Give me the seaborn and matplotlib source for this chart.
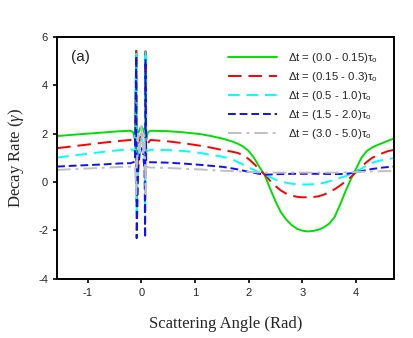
import pandas as pd
import seaborn as sns
import matplotlib.pyplot as plt

sns.set_theme(style="ticks")
plt.rcParams['font.family'] = ['Liberation Sans', 'DejaVu Sans']
plt.rcParams['axes.unicode_minus'] = False
plt.rcParams['mathtext.fontset'] = 'custom'
plt.rcParams['mathtext.it'] = 'Liberation Serif:italic'
plt.rcParams['mathtext.rm'] = 'Liberation Sans'

# angle grid (rad) of the smooth parts, left and right of the central spikes
theta_left = [-1.57, -1.3, -1.0, -0.7, -0.4, -0.2]
theta_mid = [-0.15, -0.12, -0.095, -0.088, -0.06, -0.03, 0.0, 0.03, 0.06, 0.07, 0.077, 0.09, 0.12]
theta_right = [0.17, 0.5, 0.8, 1.1, 1.3,
               1.5, 1.6, 1.7, 1.8, 1.9, 2.0, 2.1, 2.2, 2.3, 2.4, 2.5, 2.6, 2.7, 2.8, 2.9,
               3.0, 3.1, 3.2, 3.3, 3.4, 3.5, 3.6, 3.7, 3.8, 3.9, 4.0, 4.1, 4.2, 4.3, 4.4,
               4.5, 4.6, 4.71]

green_left = [1.9, 1.95, 2.0, 2.05, 2.1, 2.12]
green_mid = [2.05, 1.75, 5.4, 1.2, 2.0, 2.2, 2.3, 2.2, 2.0, 1.2, 5.35, 1.75, 2.05]
green_right = [2.12, 2.1, 2.05, 1.98, 1.9,
               1.8, 1.74, 1.67, 1.58, 1.46, 1.28, 1.0, 0.62, 0.28, -0.28, -0.8, -1.25,
               -1.55, -1.78, -1.93, -2.01, -2.04, -2.02, -1.97, -1.87, -1.72, -1.45,
               -0.95, -0.4, 0.1, 0.55, 1.0, 1.28, 1.43, 1.53, 1.62, 1.71, 1.8]

red_left = [1.4, 1.47, 1.55, 1.63, 1.7, 1.74]
red_mid = [1.6, 1.5, 5.5, -0.8, 1.2, 1.8, 2.0, 1.8, 1.2, -0.8, 5.4, 1.5, 1.6]
red_right = [1.74, 1.68, 1.6, 1.5, 1.42,
             1.33, 1.29, 1.25, 1.2, 1.1, 0.95, 0.75, 0.52, 0.3, 0.05, -0.17, -0.35,
             -0.48, -0.56, -0.61, -0.63, -0.63, -0.62, -0.59, -0.52, -0.42, -0.3,
             -0.15, 0.02, 0.2, 0.4, 0.62, 0.83, 1.0, 1.1, 1.2, 1.28, 1.33]

cyan_left = [1.01, 1.09, 1.17, 1.25, 1.32, 1.36]
cyan_mid = [1.3, 1.26, 5.3, -1.2, 1.0, 1.6, 1.8, 1.6, 1.0, -1.2, 5.46, 1.26, 1.3]
cyan_right = [1.33, 1.32, 1.28, 1.2, 1.12,
              1.05, 1.0, 0.93, 0.82, 0.72, 0.6, 0.5, 0.4, 0.3, 0.2, 0.1, 0.02,
              -0.03, -0.07, -0.09, -0.1, -0.1, -0.09, -0.07, -0.03, 0.03, 0.1,
              0.17, 0.24, 0.32, 0.42, 0.55, 0.7, 0.8, 0.86, 0.91, 0.95, 0.99]

blue_left = [0.64, 0.67, 0.7, 0.73, 0.77, 0.78]
blue_mid = [0.82, 0.85, 5.2, -2.32, 0.5, 1.2, 1.4, 1.2, 0.5, -2.3, 5.05, 0.85, 0.82]
blue_right = [0.82, 0.8, 0.76, 0.71, 0.67,
              0.63, 0.6, 0.56, 0.52, 0.47, 0.42, 0.38, 0.34, 0.31, 0.31, 0.32, 0.33,
              0.33, 0.34, 0.34, 0.34, 0.34, 0.34, 0.34, 0.34, 0.33, 0.33,
              0.33, 0.34, 0.36, 0.4, 0.45, 0.5, 0.54, 0.57, 0.6, 0.62, 0.64]

gray_left = [0.5, 0.53, 0.56, 0.59, 0.62, 0.64]
gray_mid = [0.64, 0.64, -0.5, 0.6, 2.0, 1.2, 2.3, 1.2, 2.0, 0.6, -0.5, 0.62, 0.62]
gray_right = [0.6, 0.58, 0.55, 0.52, 0.49,
              0.47, 0.46, 0.45, 0.44, 0.43, 0.42, 0.41, 0.4, 0.39, 0.39, 0.39, 0.39,
              0.39, 0.39, 0.39, 0.39, 0.39, 0.39, 0.39, 0.39, 0.39, 0.39,
              0.39, 0.4, 0.4, 0.41, 0.42, 0.43, 0.44, 0.44, 0.45, 0.45, 0.46]

labels = ["Δt = (0.0 - 0.15)τ$_\\mathregular{o}$",
          "Δt = (0.15 - 0.3)τ$_\\mathregular{o}$",
          "Δt = (0.5 - 1.0)τ$_\\mathregular{o}$",
          "Δt = (1.5 - 2.0)τ$_\\mathregular{o}$",
          "Δt = (3.0 - 5.0)τ$_\\mathregular{o}$"]
colors = ["#00e000", "#ff0000", "#00ffff", "#1010ff", "#c0c0c0"]
styles = ["-", (0, (7, 3.5)), (0, (6, 3.5)), (0, (4, 2)), (0, (7, 2.5, 1.5, 2.5))]

series = [(green_left, green_mid, green_right),
          (red_left, red_mid, red_right),
          (cyan_left, cyan_mid, cyan_right),
          (blue_left, blue_mid, blue_right),
          (gray_left, gray_mid, gray_right)]

fig = plt.figure(figsize=(4.14, 3.38), dpi=100)
ax = fig.add_axes([0.138, 0.175, 0.814, 0.716])

theta = theta_left + theta_mid + theta_right
for (l, m, r), lab, c, ls in zip(series, labels, colors, styles):
    df = pd.DataFrame({"angle": theta, "rate": l + m + r})
    sns.lineplot(data=df, x="angle", y="rate", ax=ax, color=c, linestyle=ls,
                 linewidth=1.4, label=lab, estimator=None)

ax.set_xlim(-1.57, 4.71)
ax.set_ylim(-4, 6)
ax.set_xticks([-1, 0, 1, 2, 3, 4])
ax.set_yticks([-4, -2, 0, 2, 4, 6])
ax.tick_params(labelsize=8, direction="out", length=3, width=1.2, color="black")
for s in ax.spines.values():
    s.set_linewidth(1.4)
    s.set_color("black")

ax.set_xlabel("Scattering Angle (Rad)", family="Liberation Serif", fontsize=12, labelpad=13)
ax.set_ylabel(r"Decay Rate ($\mathit{\gamma}$)", family="Liberation Serif", fontsize=12, labelpad=9)
ax.text(0.04, 0.9, "(a)", transform=ax.transAxes, fontsize=11)

ax.legend(loc="upper right", bbox_to_anchor=(0.975, 0.975), frameon=False, fontsize=8.2,
          handlelength=4.3, handletextpad=0.9, labelspacing=0.45, borderaxespad=0.3)

fig.savefig("out.png", dpi=100)
